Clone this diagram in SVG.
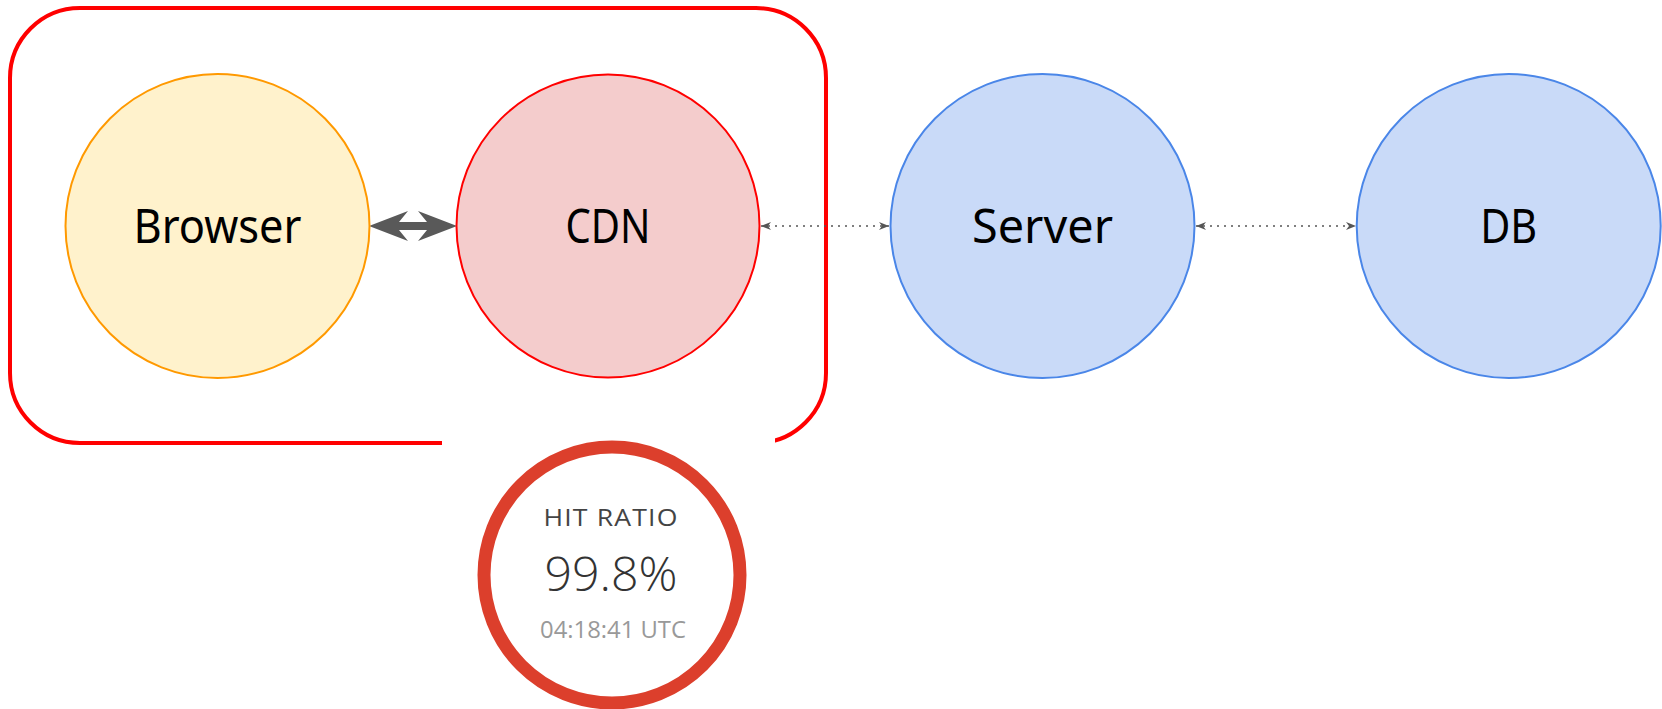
<svg xmlns="http://www.w3.org/2000/svg" width="1662" height="709" viewBox="0 0 1662 709">
<style>
.lbl{font-family:"Noto Sans","Open Sans","DejaVu Sans",sans-serif;font-size:47px;fill:#000;text-anchor:middle}
.dot{stroke:#555;stroke-width:1.6;stroke-dasharray:2 5;fill:none}
.gauge{font-family:"Open Sans","Lato","Liberation Sans",sans-serif;text-anchor:middle}
</style>
<defs>
<marker id="sa" viewBox="0 0 10 10" refX="10" refY="5" markerWidth="10" markerHeight="10" markerUnits="userSpaceOnUse" orient="auto-start-reverse">
<path d="M0,1 L10,5 L0,9 L3,5 Z" fill="#555"/>
</marker>
</defs>
<rect width="1662" height="709" fill="#fff"/>
<g id="group-box">
<rect x="10" y="8" width="816" height="435" rx="70" ry="70" fill="none" stroke="#ff0000" stroke-width="4"/>
</g>
<g id="connectors">
<path d="M369,226 L408,211 L399,222 L427,222 L418,211 L457,226 L418,241 L427,230 L399,230 L408,241 Z" fill="#595959"/>
<line class="dot" x1="761" y1="226" x2="889" y2="226" marker-start="url(#sa)" marker-end="url(#sa)"/>
<line class="dot" x1="1196" y1="226" x2="1356" y2="226" marker-start="url(#sa)" marker-end="url(#sa)"/>
</g>
<g id="browser">
<circle cx="217.5" cy="226" r="152" fill="#fff2cc" stroke="#ff9900" stroke-width="2"/>
<text class="lbl" x="217.5" y="243" textLength="168" lengthAdjust="spacingAndGlyphs">Browser</text>
</g>
<g id="cdn">
<circle cx="608" cy="226" r="151.5" fill="#f4cccc" stroke="#ff0000" stroke-width="2"/>
<text class="lbl" x="608" y="243" textLength="85" lengthAdjust="spacingAndGlyphs">CDN</text>
</g>
<g id="server">
<circle cx="1042.5" cy="226" r="152" fill="#c9daf8" stroke="#4a86e8" stroke-width="2"/>
<text class="lbl" x="1042.5" y="243" textLength="141" lengthAdjust="spacingAndGlyphs">Server</text>
</g>
<g id="db">
<circle cx="1508.7" cy="226" r="152" fill="#c9daf8" stroke="#4a86e8" stroke-width="2"/>
<text class="lbl" x="1508.7" y="243" textLength="57" lengthAdjust="spacingAndGlyphs">DB</text>
</g>
<g id="hit-ratio">
<rect x="442" y="430" width="333" height="279" fill="#fff"/>
<circle cx="612" cy="575" r="128" fill="#fff" stroke="#dc3f2c" stroke-width="13"/>
<text class="gauge" x="611" y="526" font-size="23" fill="#444" textLength="135" lengthAdjust="spacingAndGlyphs" letter-spacing="1">HIT RATIO</text>
<text class="gauge" x="611" y="591" font-size="47" font-weight="300" fill="#333" textLength="133" lengthAdjust="spacingAndGlyphs">99.8%</text>
<text class="gauge" x="613" y="638" font-size="23" fill="#999" textLength="146" lengthAdjust="spacingAndGlyphs">04:18:41 UTC</text>
</g>
</svg>
